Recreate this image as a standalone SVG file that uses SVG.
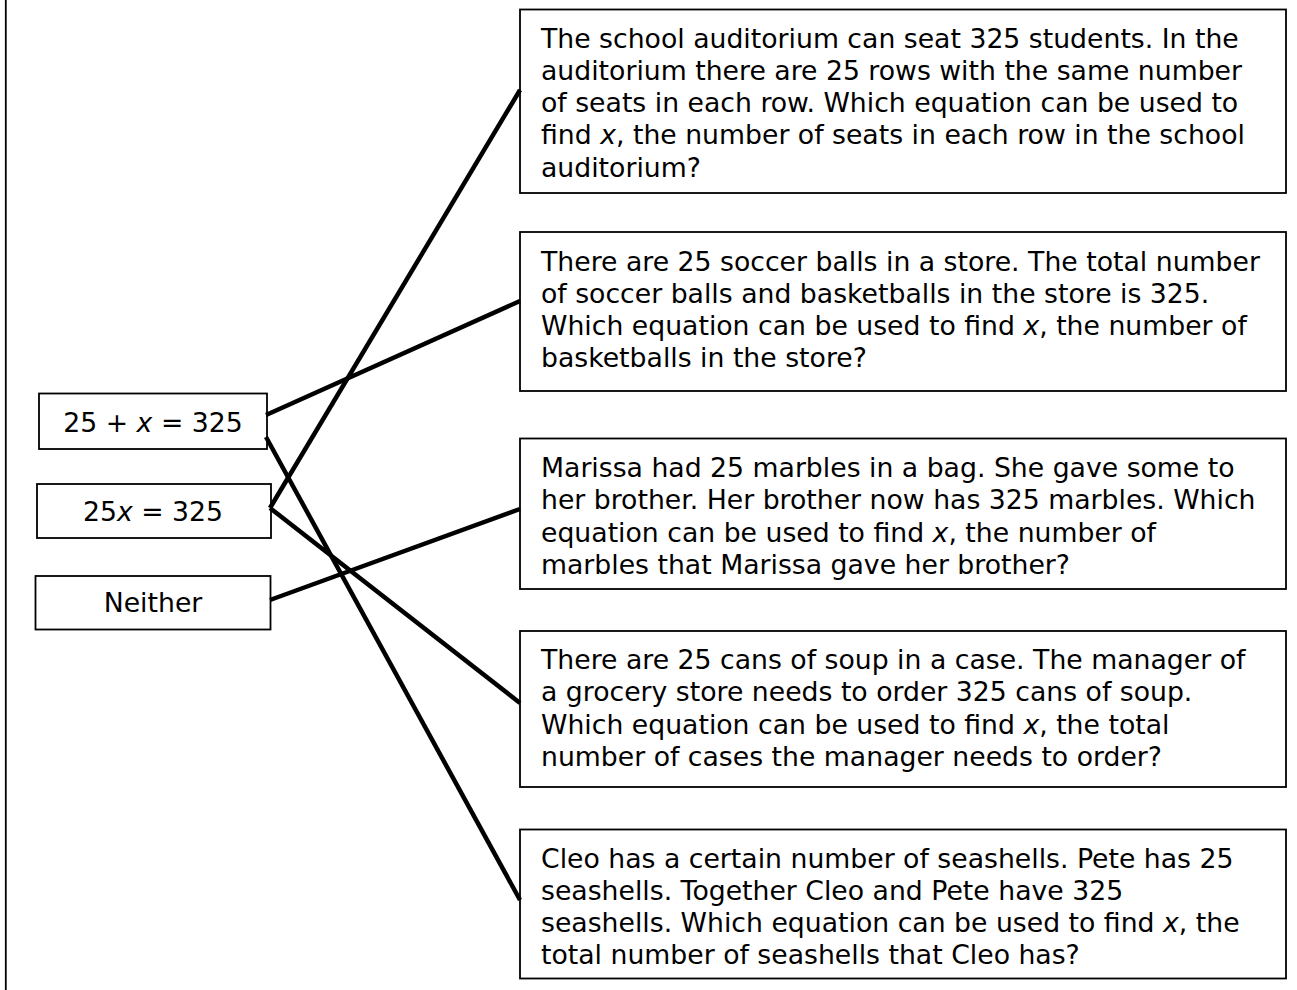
<svg xmlns="http://www.w3.org/2000/svg" width="1297" height="990" viewBox="0 0 1297 990">
<style>
.box{fill:#fff;stroke:#000;stroke-width:1.8}
.t{font-family:"DejaVu Sans","Verdana",sans-serif;font-size:26.7px;fill:#000}
.c{text-anchor:middle}
.i{font-style:italic}
.ln{stroke:#000;stroke-width:4.5;fill:none}
</style>
<rect width="1297" height="990" fill="#fff"/>
<line x1="5.8" y1="0" x2="5.8" y2="990" stroke="#000" stroke-width="1.8"/>
<g id="eq1">
<rect class="box" x="39" y="393.5" width="228" height="55.5"/>
<text class="t c" x="153" y="432">25 + <tspan class="i">x</tspan> = 325</text>
</g>
<g id="eq2">
<rect class="box" x="37" y="484" width="234" height="54"/>
<text class="t c" x="153" y="521">25<tspan class="i">x</tspan> = 325</text>
</g>
<g id="neither">
<rect class="box" x="35.5" y="576" width="235" height="53.5"/>
<text class="t c" x="153" y="612">Neither</text>
</g>
<g id="p1">
<rect class="box" x="520" y="9.5" width="766" height="183.5"/>
<text class="t">
<tspan x="541" y="47.5">The school auditorium can seat 325 students. In the</tspan>
<tspan x="541" y="79.8">auditorium there are 25 rows with the same number</tspan>
<tspan x="541" y="112.1">of seats in each row. Which equation can be used to</tspan>
<tspan x="541" y="144.4">find <tspan class="i">x</tspan>, the number of seats in each row in the school</tspan>
<tspan x="541" y="176.7">auditorium?</tspan>
</text>
</g>
<g id="p2">
<rect class="box" x="520" y="232" width="766" height="159"/>
<text class="t">
<tspan x="541" y="270.5">There are 25 soccer balls in a store. The total number</tspan>
<tspan x="541" y="302.8">of soccer balls and basketballs in the store is 325.</tspan>
<tspan x="541" y="335.1">Which equation can be used to find <tspan class="i">x</tspan>, the number of</tspan>
<tspan x="541" y="367.4">basketballs in the store?</tspan>
</text>
</g>
<g id="p3">
<rect class="box" x="520" y="438.5" width="766" height="150.5"/>
<text class="t">
<tspan x="541" y="477">Marissa had 25 marbles in a bag. She gave some to</tspan>
<tspan x="541" y="509.3">her brother. Her brother now has 325 marbles. Which</tspan>
<tspan x="541" y="541.6">equation can be used to find <tspan class="i">x</tspan>, the number of</tspan>
<tspan x="541" y="573.9">marbles that Marissa gave her brother?</tspan>
</text>
</g>
<g id="p4">
<rect class="box" x="520" y="631" width="766" height="156"/>
<text class="t">
<tspan x="541" y="669">There are 25 cans of soup in a case. The manager of</tspan>
<tspan x="541" y="701.3">a grocery store needs to order 325 cans of soup.</tspan>
<tspan x="541" y="733.6">Which equation can be used to find <tspan class="i">x</tspan>, the total</tspan>
<tspan x="541" y="765.9">number of cases the manager needs to order?</tspan>
</text>
</g>
<g id="p5">
<rect class="box" x="520" y="829.5" width="766" height="149"/>
<text class="t">
<tspan x="541" y="867.5">Cleo has a certain number of seashells. Pete has 25</tspan>
<tspan x="541" y="899.8">seashells. Together Cleo and Pete have 325</tspan>
<tspan x="541" y="932.1">seashells. Which equation can be used to find <tspan class="i">x</tspan>, the</tspan>
<tspan x="541" y="964.4">total number of seashells that Cleo has?</tspan>
</text>
</g>
<g id="connectors">
<line class="ln" x1="266" y1="415" x2="520" y2="301"/>
<line class="ln" x1="266" y1="437" x2="520" y2="900"/>
<line class="ln" x1="270" y1="508" x2="520" y2="90"/>
<line class="ln" x1="270" y1="508" x2="520" y2="703"/>
<line class="ln" x1="270" y1="600" x2="520" y2="509"/>
</g>
</svg>
